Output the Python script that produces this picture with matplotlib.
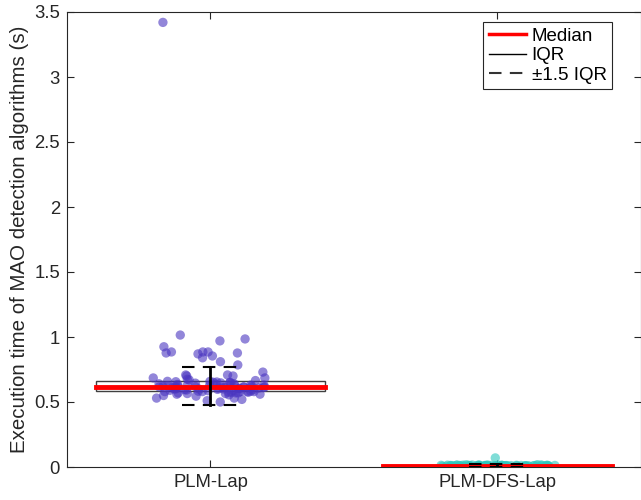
import numpy as np
import matplotlib.pyplot as plt
from matplotlib.patches import Rectangle
from matplotlib.lines import Line2D

plt.rcParams['font.family'] = 'Liberation Sans'

categories = ['PLM-Lap', 'PLM-DFS-Lap']

plm_lap = [
    3.42, 1.015, 0.985, 0.97, 0.925, 0.885, 0.885, 0.885, 0.877, 0.877,
    0.87, 0.854, 0.84, 0.81, 0.785, 0.73, 0.708, 0.708, 0.70, 0.70,
    0.685, 0.685, 0.675, 0.67, 0.665,
    0.50, 0.51, 0.52, 0.53, 0.53, 0.545, 0.55, 0.555, 0.56, 0.56,
    0.565, 0.565, 0.57, 0.57, 0.57, 0.575, 0.575, 0.575, 0.58, 0.58,
    0.58, 0.58, 0.58, 0.583, 0.583,
    0.587, 0.59, 0.59, 0.592, 0.595, 0.595, 0.597, 0.60, 0.60, 0.60,
    0.602, 0.604, 0.605, 0.606, 0.608, 0.61, 0.61, 0.611, 0.612, 0.613,
    0.614, 0.615, 0.615, 0.616, 0.616,
    0.618, 0.62, 0.62, 0.622, 0.624, 0.625, 0.627, 0.628, 0.63, 0.63,
    0.632, 0.635, 0.637, 0.64, 0.64, 0.642, 0.645, 0.647, 0.65, 0.65,
    0.652, 0.654, 0.656, 0.658, 0.659,
]

plm_dfs_lap = [
    0.07, 0.004, 0.005, 0.005, 0.006, 0.006, 0.006, 0.007, 0.007, 0.007,
    0.008, 0.008, 0.008, 0.008, 0.008, 0.009, 0.009, 0.009, 0.009, 0.009,
    0.009, 0.010, 0.010, 0.010, 0.010, 0.010, 0.010, 0.010, 0.011, 0.011,
    0.011, 0.011, 0.011, 0.011, 0.012, 0.012, 0.012, 0.012, 0.012, 0.013,
    0.013, 0.013, 0.013, 0.014, 0.014, 0.014, 0.015, 0.015, 0.016, 0.017,
    0.006, 0.007, 0.008, 0.009, 0.010, 0.011, 0.012, 0.013, 0.014, 0.016,
    0.005, 0.007, 0.009, 0.010, 0.011, 0.012, 0.013, 0.014, 0.015, 0.018,
]

groups = [plm_lap, plm_dfs_lap]
colors = ['#4a35c0', '#2cc7bd']

fig = plt.figure(figsize=(6.41, 5), dpi=100)
ax = fig.add_axes([0.1045, 0.066, 0.8955, 0.91])

# jitter only for horizontal spread of points
rng = np.random.default_rng(3)

for i, (vals, col) in enumerate(zip(groups, colors)):
    pos = i + 1
    vals = np.array(vals)
    q1, med, q3 = np.percentile(vals, [25, 50, 75])
    iqr = q3 - q1
    lo, hi = q1 - 1.5 * iqr, q3 + 1.5 * iqr

    ax.add_patch(Rectangle((pos - 0.4, q1), 0.8, q3 - q1, facecolor='none',
                           edgecolor='#404040', lw=1, zorder=2))
    xs = pos + rng.uniform(-0.2, 0.2, len(vals))
    ax.scatter(xs, vals, s=45, color=col, alpha=0.6, edgecolors='none', zorder=3)
    ax.plot([pos - 0.4, pos + 0.4], [med, med], color='red', lw=3.5, zorder=4)
    ax.plot([pos, pos], [lo, hi], color='black', lw=2, zorder=5)
    for w in (lo, hi):
        ax.plot([pos - 0.1, pos + 0.1], [w, w], color='black', lw=1.5,
                dashes=(6, 4), zorder=5)

ax.set_xlim(0.5, 2.5)
ax.set_ylim(0, 3.5)
ax.set_xticks([1, 2])
ax.set_xticklabels(categories)
ax.set_yticks(np.arange(0, 3.51, 0.5))
ax.set_yticklabels(['0', '0.5', '1', '1.5', '2', '2.5', '3', '3.5'])
ax.tick_params(direction='in', top=True, right=True, labelsize=13.3,
               colors='#262626', length=5, pad=5)
for sp in ax.spines.values():
    sp.set_color('#262626')
    sp.set_linewidth(0.8)
ax.set_ylabel('Execution time of MAO detection algorithms (s)', fontsize=14.8,
              color='#262626', labelpad=4)

handles = [Line2D([], [], color='red', lw=2.5),
           Line2D([], [], color='black', lw=1),
           Line2D([], [], color='#333333', lw=1.5, dashes=(6, 4))]
leg = ax.legend(handles, ['Median', 'IQR', '±1.5 IQR'], loc='upper right',
                bbox_to_anchor=(0.95, 0.978), fontsize=13.5, fancybox=False,
                edgecolor='#262626', framealpha=1, handlelength=2.0,
                borderaxespad=0, labelspacing=0.12, handletextpad=0.3,
                borderpad=0.3)
leg.get_frame().set_linewidth(0.8)

fig.savefig('out.png', dpi=100)
